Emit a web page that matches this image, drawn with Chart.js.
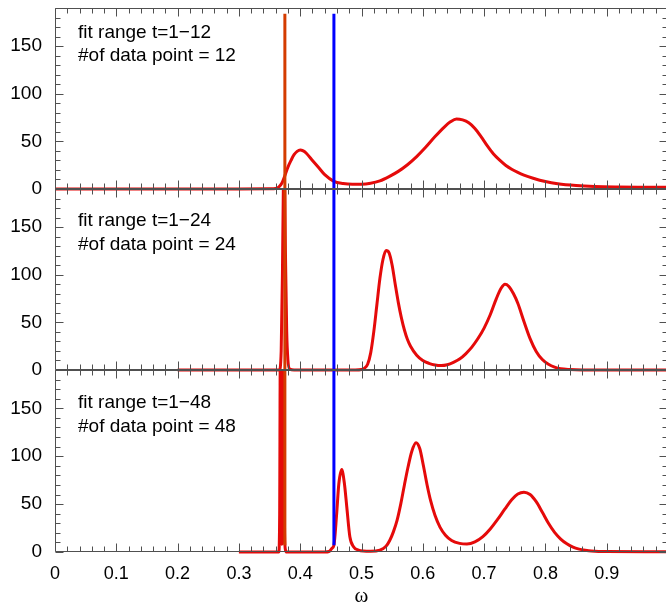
<!DOCTYPE html>
<html><head><meta charset="utf-8">
<script src="https://cdn.jsdelivr.net/npm/chart.js@4.4.0/dist/chart.umd.min.js"></script>
<style>
html,body{margin:0;padding:0;background:#fff;overflow:hidden;width:666px;height:605px;}
#wrap{position:relative;width:666px;height:605px;overflow:hidden;}
canvas{position:absolute;left:0;top:0;}
</style></head><body>
<div id="wrap">
<canvas id="c1" width="668" height="605"></canvas>
<canvas id="c2" width="668" height="605"></canvas>
<canvas id="c3" width="668" height="605"></canvas>
</div>
<script>
// ---------- data ----------
const omega12 = [0,0.1,0.2,0.3,0.35,0.36,0.365,0.37,0.375,0.38,0.385,0.39,0.395,0.40,0.405,0.41,0.42,0.43,0.44,0.455,0.47,0.485,0.50,0.515,0.53,0.545,0.56,0.575,0.59,0.605,0.62,0.635,0.645,0.655,0.665,0.675,0.685,0.695,0.705,0.715,0.725,0.735,0.745,0.755,0.765,0.78,0.80,0.82,0.85,0.88,0.92,0.96,1.0];
const spec12  = [0,0,0,0,0.2,0.6,2,6,14,23,30,36,39.5,41,40,37.5,30,22.5,15,8,5.8,5,5,6,8.5,13,18.5,25.5,34,44,55,65,70.5,73.5,72.5,69.5,63.5,55,45.5,37,30.5,25,20.8,17.4,14.6,11.3,7.8,5.5,3.6,2.6,2.1,1.9,1.8];

const omega24 = [0.2,0.3,0.36,0.366,0.369,0.371,0.3725,0.374,0.376,0.378,0.380,0.383,0.39,0.45,0.49,0.50,0.505,0.51,0.515,0.52,0.525,0.53,0.535,0.54,0.545,0.55,0.555,0.56,0.565,0.57,0.575,0.58,0.59,0.60,0.61,0.62,0.63,0.64,0.65,0.66,0.67,0.68,0.69,0.70,0.71,0.72,0.728,0.734,0.74,0.748,0.755,0.765,0.775,0.785,0.795,0.805,0.815,0.825,0.84,0.86,0.9,1.0];
const spec24  = [0,0,0,0,20,100,190,215,120,40,10,1,0,0,0,0.5,2,6,18,40,68,96,116,125.5,123,110,90,71,55,42,32,25,15.5,10,7,5.2,4.6,5.5,8,11.5,17,24,33,44,58,75,86,90,88,80,70,51,33,19.5,11,6,3,1.3,0.5,0.1,0,0];

const omega48 = [0.3,0.36,0.365,0.3665,0.3675,0.3685,0.3695,0.370,0.3705,0.3715,0.3725,0.3735,0.3745,0.376,0.378,0.44,0.447,0.452,0.455,0.4595,0.463,0.4677,0.472,0.476,0.481,0.487,0.495,0.503,0.515,0.53,0.54,0.546,0.552,0.558,0.564,0.570,0.576,0.582,0.589,0.595,0.601,0.607,0.613,0.62,0.628,0.637,0.647,0.66,0.672,0.685,0.698,0.71,0.722,0.734,0.745,0.755,0.765,0.775,0.785,0.795,0.805,0.815,0.825,0.835,0.845,0.855,0.865,0.875,0.9,1.0];
const spec48  = [0,0,0,40,200,120,20,8,20,150,220,100,20,2,0,0,0.5,4,7,40,71,86,72,47,16,5.5,2,1,0.8,2,6,12,21,33,50,70,89,105,114,108,90,70,53,38,26,17.5,12,9,8.3,10.5,16,24,34,45,54.5,60.5,62.5,60,52.5,41.5,30,20.5,13.5,8.5,5,3,1.8,1,0.4,0.3];

const markerOrangeX = 0.375;
const markerBlueX = 0.455;
const markerTopValue = 184;     // top end of markers (top panel)
const markerBottomValue = 7;    // bottom end of markers (bottom panel)

const panelTexts = [
  ["fit range t=1\u221212", "#of data point = 12"],
  ["fit range t=1\u221224", "#of data point = 24"],
  ["fit range t=1\u221248", "#of data point = 48"]
];
const xTickValues = [0,0.1,0.2,0.3,0.4,0.5,0.6,0.7,0.8,0.9];
const xTickLabels = ["0","0.1","0.2","0.3","0.4","0.5","0.6","0.7","0.8","0.9"];
const yTickValues = [0,50,100,150];
const yTickLabels = ["0","50","100","150"];
const xAxisTitle = "\u03c9";

// ---------- style / layout ----------
const RED = '#e50a0a', ORANGE = '#d43c00', BLUE = '#0000ff', FRAME = '#505050';
const panelBounds = [[8,189],[189,370],[370,552]];
const textOffsets = [[30,53],[37,61],[38,62]];
const Y_MAX = 190, X_MAX = 1.0;

function pts(xs, ys){ return xs.map((v,i)=>({x:v, y:ys[i]})); }

function framePlugin(idx){
  return {
    id:'frame'+idx,
    afterDatasetsDraw(chart){
      const {ctx, chartArea:ca, scales:{x,y}} = chart;
      ctx.save();
      ctx.strokeStyle = FRAME; ctx.lineWidth = 1;
      const T = Math.round(ca.top)+0.5, B = Math.round(ca.bottom)-0.5;
      const L = Math.round(ca.left)+0.5, R = Math.round(ca.right)-0.5;
      ctx.beginPath();
      ctx.rect(L, T, R-L, B-T);
      for (let i=0;i<=50;i++){
        const v = i*0.02;
        const px = Math.round(x.getPixelForValue(v))+0.5;
        const len = (i%5===0)?8:5;
        ctx.moveTo(px,T); ctx.lineTo(px,T+len);
        ctx.moveTo(px,B); ctx.lineTo(px,B-len);
      }
      for (let i=0;i<=19;i++){
        const v = i*10;
        const py = Math.round(y.getPixelForValue(v))+0.5;
        const len = (i%5===0)?8:5;
        ctx.moveTo(L,py); ctx.lineTo(L+len,py);
        ctx.moveTo(R,py); ctx.lineTo(R-len,py);
      }
      ctx.stroke();
      ctx.fillStyle = '#000';
      ctx.font = '19px "Liberation Sans", Arial, sans-serif';
      ctx.textAlign = 'left'; ctx.textBaseline = 'alphabetic';
      ctx.fillText(panelTexts[idx][0], ca.left+23, ca.top+textOffsets[idx][0]);
      ctx.fillText(panelTexts[idx][1], ca.left+23, ca.top+textOffsets[idx][1]);
      ctx.restore();
    }
  };
}

function makeChart(idx, canvasId, omega, spec, markerLow, markerHigh){
  const [top, bottom] = panelBounds[idx];
  const isBottom = idx === 2;
  const clipCurve = {left:0, right:0, top:0, bottom:2};
  const clipLine = {left:0, right:0, top:0, bottom:0};
  return new Chart(document.getElementById(canvasId), {
    type:'line',
    data:{
      datasets:[
        {data:[{x:markerBlueX,y:markerHigh},{x:markerBlueX,y:markerLow}], borderColor:BLUE, borderWidth:3, pointRadius:0, clip:clipLine},
        {data:[{x:markerOrangeX,y:markerHigh},{x:markerOrangeX,y:markerLow}], borderColor:ORANGE, borderWidth:3, pointRadius:0, clip:clipLine},
        {data:pts(omega,spec), borderColor:RED, borderWidth:3, pointRadius:0, cubicInterpolationMode:'monotone', clip:clipCurve}
      ]
    },
    options:{
      responsive:false, animation:false, devicePixelRatio:1,
      layout:{padding:{left:0,right:0,top:top,bottom:isBottom?0:605-bottom}},
      plugins:{legend:{display:false}, tooltip:{enabled:false}},
      scales:{
        x:{
          type:'linear', min:0, max:X_MAX, display:isBottom,
          grid:{display:false, drawTicks:false}, border:{display:false},
          afterBuildTicks(s){ s.ticks = xTickValues.map(v=>({value:v})); },
          afterFit(s){ s.height = isBottom ? 605 - bottom : 0; s.paddingLeft = 0; s.paddingRight = 0; },
          ticks:{autoSkip:false, maxRotation:0, padding:11, color:'#000',
                 font:{family:'"Liberation Sans", Arial, sans-serif', size:18},
                 callback:(v,i)=>xTickLabels[i]},
          title:{display:true, text:xAxisTitle, color:'#000', padding:{top:0,bottom:-2},
                 font:{family:'"Liberation Serif", "DejaVu Serif", serif', size:21, lineHeight:1}}
        },
        y:{
          type:'linear', min:0, max:Y_MAX, position:'left',
          grid:{display:false, drawTicks:false}, border:{display:false},
          afterBuildTicks(s){ s.ticks = yTickValues.map(v=>({value:v})); },
          afterFit(s){ s.width = 55; s.paddingTop = 0; s.paddingBottom = 0; },
          ticks:{padding:13, color:'#000',
                 font:{family:'"Liberation Sans", Arial, sans-serif', size:19},
                 callback:(v,i)=>yTickLabels[i]}
        }
      }
    },
    plugins:[framePlugin(idx)]
  });
}

makeChart(0,'c1',omega12,spec12,0,markerTopValue);
makeChart(1,'c2',omega24,spec24,0,Y_MAX);
makeChart(2,'c3',omega48,spec48,markerBottomValue,Y_MAX);
</script>
</body></html>
